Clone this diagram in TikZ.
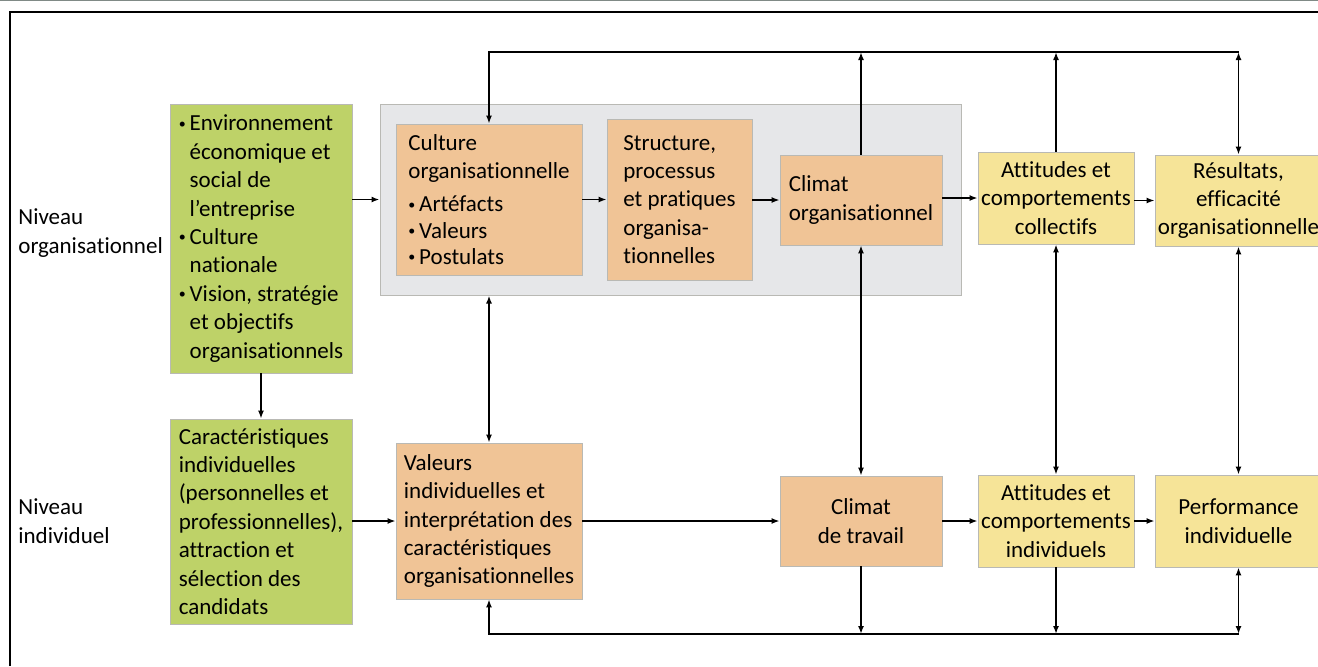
\documentclass[tikz,border=0pt]{standalone}
\usepackage{fontspec}
\setmainfont{Carlito}[Ligatures={NoCommon}]
\usepackage{tikz}
\usetikzlibrary{arrows.meta,positioning}
\definecolor{CulGreen}{RGB}{190,210,104}
\definecolor{CulOrange}{RGB}{240,196,150}
\definecolor{CulYellow}{RGB}{246,228,152}
\definecolor{CulGray}{RGB}{230,231,233}
\definecolor{CulEdge}{RGB}{185,185,180}
\definecolor{CulRule}{RGB}{128,138,134}
\newcommand{\itm}{\raisebox{0.25ex}{\fontsize{7}{7}\selectfont\textbullet}\,}
\newcommand{\hng}{\hphantom{\itm}}
\tikzset{
  base/.style={draw=CulEdge,line width=0.4pt,inner sep=0pt,font=\fontsize{11.5}{14.2}\selectfont},
  gbox/.style={base,fill=CulGreen,align=left},
  obox/.style={base,fill=CulOrange,align=left},
  ocbox/.style={base,fill=CulOrange,align=center},
  ybox/.style={base,fill=CulYellow,align=center},
  cbox/.style={draw=CulEdge,fill=CulGray,line width=0.5pt,inner sep=0pt},
  lbl/.style={anchor=west,align=left,inner sep=0pt,font=\fontsize{11.5}{14.2}\selectfont},
  arr/.style={-{Latex[length=4pt,width=3pt]},black,line width=0.8pt},
  darr/.style={{Latex[length=4pt,width=3pt]}-{Latex[length=4pt,width=3pt]},black,line width=0.8pt},
}
\begin{document}
\begin{tikzpicture}[x=0.5pt,y=-0.5pt]
    \useasboundingbox (0,0) rectangle (1318,666);
    %% Frame
    \draw[CulRule,line width=1pt] (0,0) -- (1318,0);
    \draw[line width=1pt] (10,666) -- (10,12) -- (1318,12);
    %% Levels
    \node[lbl] (nivorg) at (18,233) {Niveau\\organisationnel};
    \node[lbl] (nivind) at (18,521) {Niveau\\individuel};
    %% Context
    \node[gbox,minimum width=91pt,minimum height=134.5pt] (env) at (261,238.5)
      {\itm Environnement\\\hng économique et\\\hng social de\\\hng l’entreprise\\\itm Culture\\\hng nationale\\\itm Vision, stratégie\\\hng et objectifs\\\hng organisationnels};
    \node[gbox,minimum width=91pt,minimum height=102.5pt] (carac) at (261,521.5)
      {Caractéristiques\\individuelles\\(personnelles et\\professionnelles),\\attraction et\\sélection des\\candidats};
    %% Organisation
    \node[cbox,minimum width=290.5pt,minimum height=95.5pt] (cont) at (670.5,199.5) {};
    \node[obox,minimum width=93pt,minimum height=75.5pt] (culture) at (489,199.5)
      {Culture\\organisationnelle\\[2.5pt]\itm Artéfacts\\[-1pt]\itm Valeurs\\[-1pt]\itm Postulats};
    \node[obox,minimum width=72.5pt,minimum height=80.5pt] (struct) at (679.5,199.5)
      {Structure,\\processus\\et pratiques\\organisa-\\tionnelles};
    \node[obox,minimum width=81pt,minimum height=45pt] (climorg) at (861,200)
      {Climat\\organisationnel};
    \node[ybox,minimum width=78pt,minimum height=46pt] (attcoll) at (1056,198)
      {Attitudes et\\comportements\\collectifs};
    \node[ybox,minimum width=83.5pt,minimum height=45.5pt] (result) at (1238.5,200.5)
      {Résultats,\\efficacité\\organisationnelle};
    %% Individu
    \node[obox,minimum width=93pt,minimum height=78pt] (valeurs) at (489,521)
      {Valeurs\\individuelles et\\interprétation des\\caractéristiques\\organisationnelles};
    \node[ocbox,minimum width=81pt,minimum height=45pt] (climtrav) at (861,521)
      {Climat\\de travail};
    \node[ybox,minimum width=78pt,minimum height=46pt] (attind) at (1056,521)
      {Attitudes et\\comportements\\individuels};
    \node[ybox,minimum width=83.5pt,minimum height=46pt] (perf) at (1238.5,521)
      {Performance\\individuelle};
    %% Buses
    \coordinate (tl) at (489,52);
    \coordinate (bl) at (489,634);
    %% Arrows
    \draw[arr] (env.east |- cont.west) -- (cont.west);
    \draw[arr] (env) -- (carac);
    \draw[arr] (carac.east |- valeurs.west) -- (valeurs.west);
    \draw[arr] (culture.east) -- (culture.east -| struct.west);
    \draw[arr] (struct.east |- climorg.west) -- (climorg.west);
    \draw[arr] (climorg.east |- attcoll.west) -- (attcoll.west);
    \draw[arr] (attcoll.east |- result.west) -- (result.west);
    \draw[arr] (valeurs.east) -- (climtrav.west);
    \draw[arr] (climtrav.east) -- (attind.west);
    \draw[arr] (attind.east) -- (perf.west);
    \draw[darr] (cont.south -| valeurs.north) -- (valeurs.north);
    \draw[darr] (climorg.south) -- (climtrav.north);
    \draw[darr] (attcoll.south) -- (attind.north);
    \draw[darr] (result.south) -- (perf.north);
    \draw[arr] (result.north |- tl) -- (tl) -- (culture.north);
    \draw[darr] (result.north) -- (result.north |- tl);
    \draw[arr] (climorg.north) -- (climorg.north |- tl);
    \draw[arr] (attcoll.north) -- (attcoll.north |- tl);
    \draw[arr] (perf.south |- bl) -- (bl) -- (valeurs.south);
    \draw[darr] (perf.south) -- (perf.south |- bl);
    \draw[arr] (climtrav.south) -- (climtrav.south |- bl);
    \draw[arr] (attind.south) -- (attind.south |- bl);
  \end{tikzpicture}
\end{document}
